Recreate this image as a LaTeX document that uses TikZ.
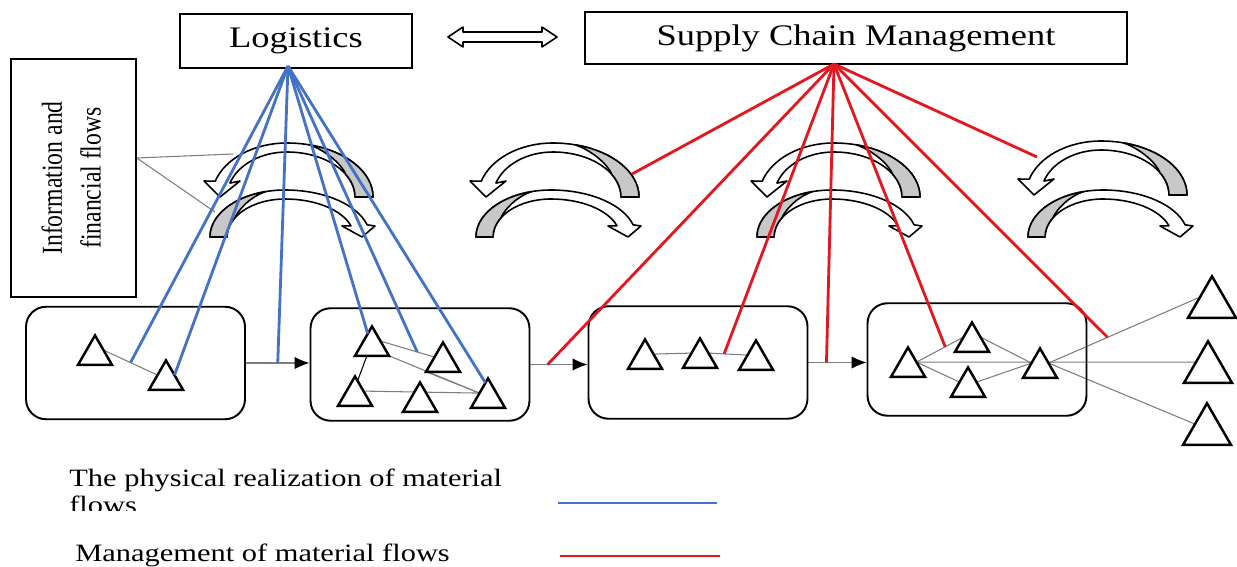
\documentclass[tikz,border=0pt]{standalone}
\usepackage{fontspec}
\setmainfont{Liberation Serif}
\usepackage{graphicx}
\usetikzlibrary{shapes.geometric,arrows.meta,calc}
\definecolor{lblue}{RGB}{68,114,196}
\definecolor{lred}{RGB}{228,22,30}
\definecolor{arrgray}{RGB}{200,200,200}
\definecolor{connc}{RGB}{125,125,125}
\newcommand\sx[1]{\scalebox{1.22}[1]{#1}}
\pgfdeclarelayer{bottom}
\pgfdeclarelayer{lines}
\pgfsetlayers{bottom,lines,main}
\tikzset{
  toparr/.pic={
    \begin{scope}[yscale=-1]
      \filldraw[fill=white, line width=0.9pt, line join=round]
        (86,0) arc[start angle=0,end angle=90,x radius=86,y radius=54]
        arc[start angle=90,end angle=163,x radius=75,y radius=54]
        -- (-83,16) -- (-67,0) -- (-47,16) -- (-57.06,13.9)
        arc[start angle=162,end angle=90,x radius=60,y radius=45]
        arc[start angle=90,end angle=0,x radius=68,y radius=45]
        -- cycle;
      \filldraw[fill=arrgray, line width=0.9pt, line join=round]
        (86,0) arc[start angle=0,end angle=75,x radius=86,y radius=54]
        .. controls (40,46) and (55,32) .. (58.89,22.5)
        arc[start angle=30,end angle=0,x radius=68,y radius=45]
        -- cycle;
    \end{scope}
  },
  botarr/.pic={
    \begin{scope}[yscale=-1]
      \filldraw[fill=white, line width=0.9pt, line join=round]
        (-75,0) arc[start angle=180,end angle=90,x radius=75,y radius=47]
        arc[start angle=90,end angle=15,x radius=85,y radius=47]
        -- (90,11) -- (77,0) -- (57,11) -- (65.99,11.11)
        arc[start angle=17,end angle=90,x radius=69,y radius=38]
        arc[start angle=90,end angle=180,x radius=58,y radius=38]
        -- cycle;
      \filldraw[fill=arrgray, line width=0.9pt, line join=round]
        (-75,0) arc[start angle=180,end angle=105,x radius=75,y radius=47]
        .. controls (-35,40) and (-46,28) .. (-50.23,19)
        arc[start angle=150,end angle=180,x radius=58,y radius=38]
        -- cycle;
    \end{scope}
  }
}
\begin{document}
\begin{tikzpicture}[x=0.02cm,y=-0.02cm,
  tbox/.style={draw, line width=0.9pt, inner sep=0pt},
  rbox/.style={draw, line width=1.1pt, rounded corners=0.4cm, minimum width=4.38cm, minimum height=2.25cm},
  tri/.style={regular polygon, regular polygon sides=3, draw, line width=1.4pt, fill=white, inner sep=0pt, outer sep=0pt, minimum size=0.784cm},
  bigtri/.style={tri, minimum size=1.108cm},
  conn/.style={draw=connc, line width=0.6pt},
  flow/.style={draw=connc, line width=0.7pt, -{Latex[length=8.5pt,width=7pt,color=black]}},
  bl/.style={draw=lblue, line width=1.6pt},
  rd/.style={draw=lred, line width=1.6pt}]
\begin{pgfonlayer}{bottom}
  \fill[white] (0,0) rectangle (1237,567);
\end{pgfonlayer}
\useasboundingbox (0,0) rectangle (1237,567);

% title boxes
\node[tbox, minimum width=4.64cm, minimum height=1.08cm] (log) at (296,41) {\fontsize{17}{20}\selectfont\sx{Logistics}};
\node[tbox, minimum width=10.84cm, minimum height=1.05cm] (scm) at (856,38) {\fontsize{17}{20}\selectfont\sx{Supply Chain Management}};
\node[tbox, minimum width=2.5cm, minimum height=4.76cm] (info) at (73.5,178) {\fontsize{13.5}{18}\selectfont\sx{\rotatebox{90}{\begin{tabular}{@{}c@{}}Information and\\financial flows\end{tabular}}}};

% double arrow
\draw[line width=0.9pt, fill=white, line join=round] (448,37) -- (463,27) -- (463,32) -- (542,32) -- (542,27) -- (557,37) -- (542,47) -- (542,42) -- (463,42) -- (463,47) -- cycle;

% stage boxes
\node[rbox] (b1) at (135.5,363) {};
\node[rbox] (b2) at (420,364.5) {};
\node[rbox] (b3) at (698,362.5) {};
\node[rbox] (b4) at (977,359.5) {};

% curved arrows
\pic at (287,197) {toparr};
\pic at (285,237) {botarr};
\pic at (553,197) {toparr};
\pic at (551,237) {botarr};
\pic at (834,197) {toparr};
\pic at (832,237) {botarr};
\pic at (1101,195) {toparr};
\pic at (1103,237) {botarr};

% triangles
\node[tri] (a1) at (95,355) {};
\node[tri] (a2) at (166,380) {};
\node[tri] (c1) at (372,346) {};
\node[tri] (c2) at (443,362) {};
\node[tri] (c3) at (355,396) {};
\node[tri] (c4) at (420,402) {};
\node[tri] (c5) at (488,398) {};
\node[tri] (d1) at (645,359) {};
\node[tri] (d2) at (700,358) {};
\node[tri] (d3) at (756,360) {};
\node[tri] (e1) at (908,367) {};
\node[tri] (e2) at (972,342) {};
\node[tri] (e3) at (968,387) {};
\node[tri] (e4) at (1040,368) {};
\node[bigtri] (o1) at (1212,304) {};
\node[bigtri] (o2) at (1208,369) {};
\node[bigtri] (o3) at (1207,431) {};

% thin connectors (behind)
\begin{pgfonlayer}{lines}
  \draw[conn] (a1.side 3) -- (a2.side 1);
  \draw[conn] (c1.side 3) -- (c2.side 1);
  \draw[conn] (c1.corner 3) -- (c5.side 1);
  \draw[conn] (c2.corner 2) -- (c5.side 1);
  \draw[conn] (c3.side 3) -- (c5.side 1);
  \draw[draw=black, line width=0.6pt] ($(c1.side 2)!0.3!(c1.corner 2)$) -- ($(c3.corner 1)!0.15!(c3.corner 3)$);
  \draw[conn] (d1.side 3) -- (d2.side 1);
  \draw[conn] (d2.side 3) -- (d3.side 1);
  \draw[conn] (e1.side 3) -- (e2.side 1);
  \draw[conn] (e1.side 3) -- (e3.side 1);
  \draw[conn] (e1.side 3) -- (o2.side 1);
  \draw[conn] (e2.side 3) -- (e4.side 1);
  \draw[conn] (e3.side 3) -- (e4.side 1);
  \draw[conn] (e4.side 3) -- (o1.side 1);
  \draw[conn] (e4.side 3) -- (o3.side 1);
  \draw[flow] (b1.east) -- (b1.east -| b2.west);
  \draw[flow] (b2.east) -- (b2.east -| b3.west);
  \draw[flow] (b3.east) -- (b3.east -| b4.west);
  \coordinate (ia) at ($(info.east)+(0,-20)$);
  \coordinate (ie1) at (233,154);
  \coordinate (ie2) at (215,212);
  \draw[conn] (ia) -- (ie1);
  \draw[conn] (ia) -- (ie2);
\end{pgfonlayer}

% logistics lines
\coordinate (lapex) at (288,66);
\coordinate (bA) at ($(a1.side 3)!0.5!(a2.side 1)$);
\coordinate (bC) at ($(b1.east)!0.5!(b1.east -| b2.west)$);
\coordinate (bD) at ($(c1.corner 1)!0.25!(c1.corner 2)$);
\coordinate (bE) at ($(c1.side 3)!0.68!(c2.side 1)$);
\coordinate (bF) at ($(c5.corner 1)!0.15!(c5.corner 2)$);
\draw[bl] (lapex) -- (bA);
\draw[bl] (lapex) -- (a2.side 3);
\draw[bl] (lapex) -- (bC);
\draw[bl] (lapex) -- (bD);
\draw[bl] (lapex) -- (bE);
\draw[bl] (lapex) -- (bF);

% SCM lines
\coordinate (sapex) at (834,64);
\coordinate (r1) at (632,174);
\coordinate (r2) at ($(b2.east)!0.3!(b2.east -| b3.west)$);
\coordinate (r3) at ($(d2.side 3)!0.4!(d3.side 1)$);
\coordinate (r4) at ($(b3.east)!0.31!(b3.east -| b4.west)$);
\coordinate (r5) at ($(e1.side 3)!0.61!(e2.side 1)$);
\coordinate (r6) at ($(e4.side 3)!0.39!(o1.side 1)$);
\coordinate (r7) at (1037,157);
\foreach \p in {r1,r2,r3,r4,r5,r6,r7} \draw[rd] (sapex) -- (\p);

% legend
\begin{scope}
  \clip (0,0) rectangle (1237,510);
  \node[anchor=base west, inner sep=0pt] (leg1) at (69,486.7) {\fontsize{14.2}{15.3}\selectfont\sx{\begin{tabular}[t]{@{}l@{}}The physical realization of material\\flows\end{tabular}}};
\end{scope}
\node[anchor=base west, inner sep=0pt] (leg2) at (75,561.7) {\fontsize{14.2}{16}\selectfont\sx{Management of material flows}};
\draw[bl] (558,503) -- (717,503);
\draw[rd] (560,556) -- (720,556);
\end{tikzpicture}
\end{document}
